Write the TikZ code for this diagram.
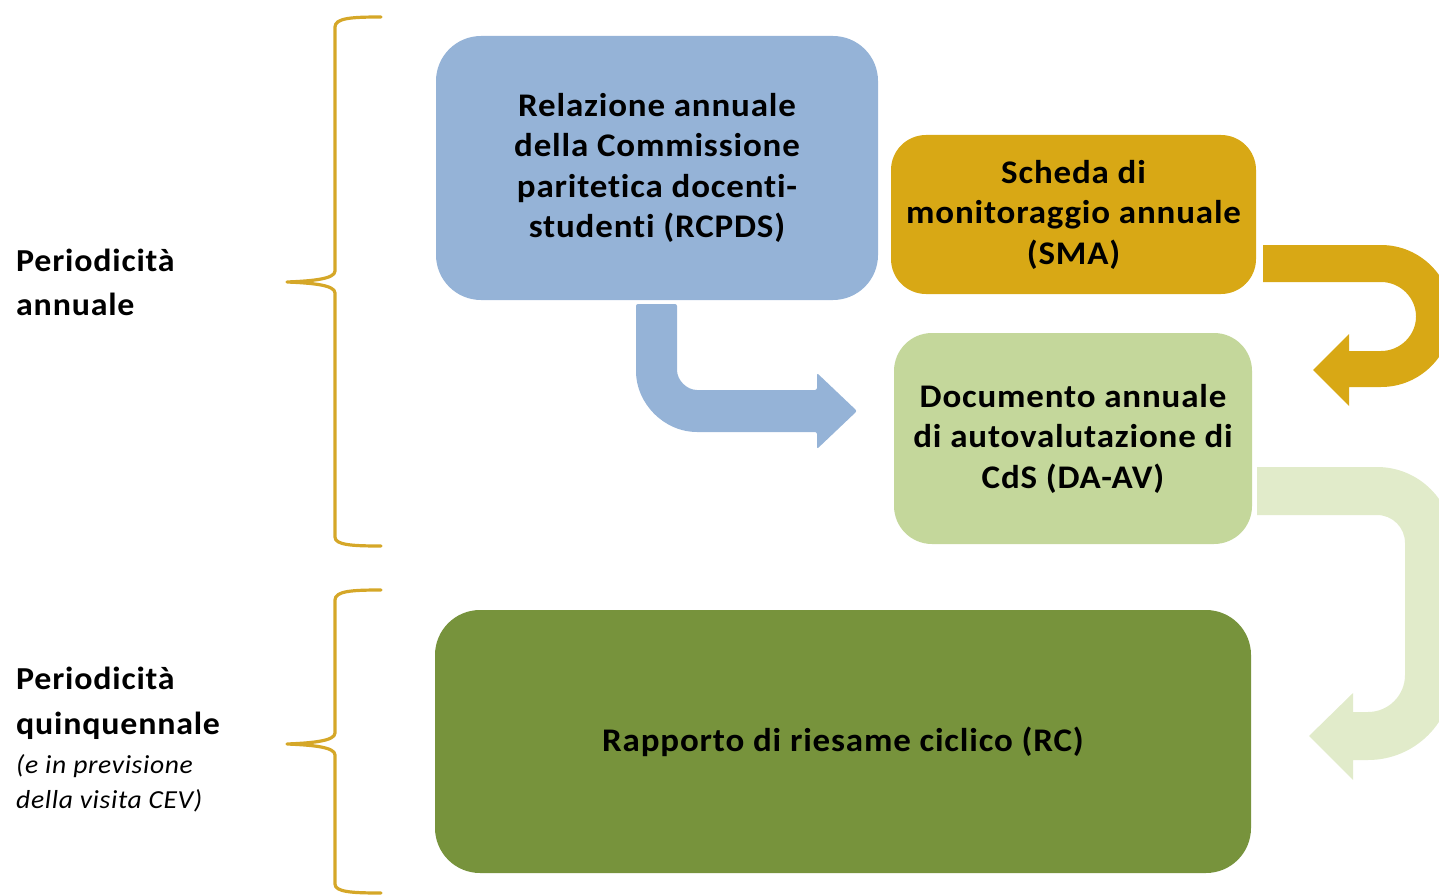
\documentclass[tikz,border=0pt]{standalone}
\usepackage{fontspec}
\setmainfont[LetterSpace=2.5,FakeStretch=1.06,Ligatures=NoCommon]{Carlito}
\begin{document}
\begin{tikzpicture}[x=1pt,y=-1pt,
  box/.style={rectangle,inner sep=0pt,align=center,text=black,
    font=\bfseries\fontsize{33}{40.5}\selectfont},
  lbl/.style={anchor=west,inner sep=0pt,align=left,text=black},
  bracestyle/.style={draw=braceGold,line width=3.2pt,line cap=round,line join=round},
]
\definecolor{boxBlue}{HTML}{95B3D7}
\definecolor{boxGold}{HTML}{D8A815}
\definecolor{boxLight}{HTML}{C4D79B}
\definecolor{boxGreen}{HTML}{77933C}
\definecolor{braceGold}{HTML}{D5A728}
\definecolor{arrowLight}{HTML}{E1EBCA}
\useasboundingbox (0,0) rectangle (1439,896);
\clip (0,0) rectangle (1439,896);

% boxes
\node[box,fill=boxBlue,rounded corners=45pt,minimum width=442pt,minimum height=264pt]
  (rcpds) at (657,168) {Relazione annuale\\della Commissione\\paritetica docenti-\\studenti (RCPDS)};
\node[box,fill=boxGold,rounded corners=35pt,minimum width=365pt,minimum height=159pt]
  (sma) at (1073.5,214.5) {Scheda di\\monitoraggio annuale\\(SMA)};
\node[box,fill=boxLight,rounded corners=38pt,minimum width=358pt,minimum height=211pt]
  (daav) at (1073,438.5) {Documento annuale\\di autovalutazione di\\CdS (DA-AV)};
\node[box,fill=boxGreen,rounded corners=45pt,minimum width=816pt,minimum height=263pt]
  (rc) at (843,741.5) {\raisebox{-3pt}{Rapporto di riesame ciclico (RC)}};

% blue block arrow: RCPDS -> DA-AV
\fill[boxBlue,rounded corners=2pt] (636,304) -- (677,304) -- (677,368)
  .. controls (677,380.2) and (686.8,390) .. (699,390) -- (817,390) -- (817,373)
  -- (857,411) -- (817,449) -- (817,432) -- (699,432)
  .. controls (664.2,432) and (636,403.8) .. (636,369) -- cycle;

% gold block arrow: SMA -> DA-AV
\fill[boxGold] (1263,245) -- (1381,245)
  .. controls (1420.2,245) and (1452,276.8) .. (1452,316)
  .. controls (1452,355.2) and (1420.2,387) .. (1381,387) -- (1349,387) -- (1349,406)
  -- (1313,370) -- (1349,334) -- (1349,351) -- (1381,351)
  .. controls (1400.3,351) and (1416,335.3) .. (1416,316.5)
  .. controls (1416,297.7) and (1400.3,282) .. (1381,282) -- (1263,282) -- cycle;

% light green block arrow: DA-AV -> RC
\fill[arrowLight] (1257,467) -- (1377,467)
  .. controls (1419,467) and (1453,501) .. (1453,543) -- (1453,675)
  .. controls (1453,722) and (1415,760) .. (1368,760) -- (1353,760) -- (1353,780)
  -- (1309,736) -- (1353,693) -- (1353,712) -- (1368,712)
  .. controls (1388.4,712) and (1405,695.4) .. (1405,675) -- (1405,543)
  .. controls (1405,527.5) and (1392.5,515) .. (1377,515) -- (1257,515) -- cycle;

% braces
\draw[bracestyle] (381,17) .. controls (352,17) and (335,18) .. (335,27) -- (335,271)
  .. controls (335,279) and (312,281) .. (287,282)
  .. controls (312,283) and (335,285) .. (335,293) -- (335,537)
  .. controls (335,545) and (352,546) .. (381,546);
\draw[bracestyle] (381,590) .. controls (352,590) and (335,591) .. (335,600) -- (335,733)
  .. controls (335,741) and (312,743) .. (287,744)
  .. controls (312,745) and (335,747) .. (335,755) -- (335,884)
  .. controls (335,892) and (352,893) .. (381,893);

% labels
\node[lbl,font=\bfseries\fontsize{32}{44}\selectfont] (lab1) at (16,282) {Periodicità\\annuale};
\node[lbl,font=\bfseries\fontsize{32}{45}\selectfont] (lab2) at (16,703.5) {Periodicità\\quinquennale};
\node[lbl,font=\itshape\fontsize{26}{35}\selectfont] (lab3) at (16,783) {(e in previsione\\della visita CEV)};
\end{tikzpicture}
\end{document}
